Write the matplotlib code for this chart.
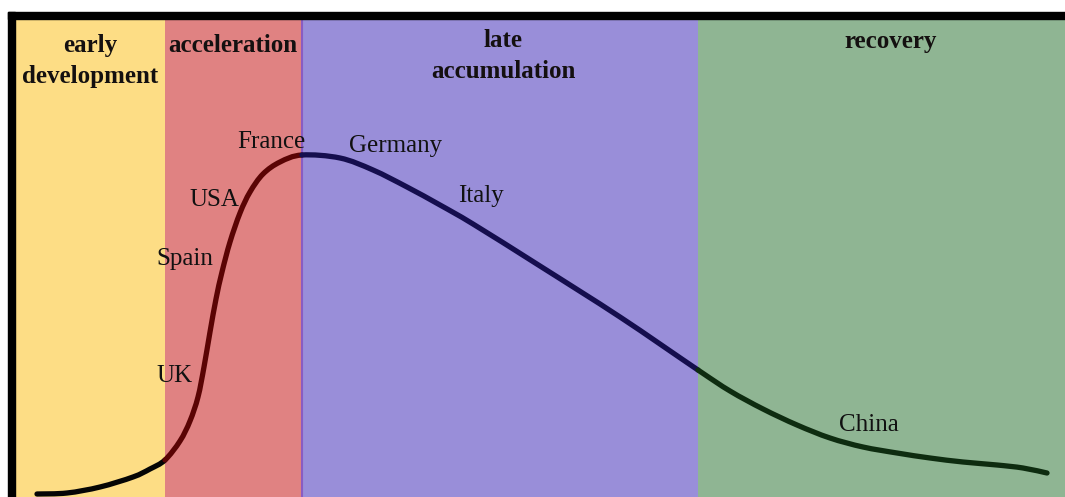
import numpy as np
import matplotlib.pyplot as plt
from matplotlib.patches import Rectangle, PathPatch
from matplotlib.path import Path

# stages: boundaries along the horizontal axis (pixel-like units)
stage_top = ["early", "acceleration", "late", "recovery"]
stage_bottom = ["development", "", "accumulation", ""]
stage_edges = [15, 165, 302, 698, 1065]
stage_colors = ["#fddd85", "#e08282", "#998ed9", "#8fb593"]
line_colors = ["#050505", "#5a0404", "#150e4e", "#0e2c10"]

# curve (x, level from bottom)
curve_x = [37, 67, 100, 133, 150, 165, 180, 190, 198, 204, 210, 216, 222, 230,
           240, 250, 263, 280, 302, 340, 373, 407, 440, 473, 540, 620, 698,
           730, 763, 797, 830, 863, 897, 930, 963, 997, 1023, 1047]
curve_y = [3, 4, 10, 20, 28, 37, 56, 76, 100, 130, 165, 198, 225, 255,
           284, 305, 323, 335, 342, 339, 327, 310, 292, 273, 231, 180, 127,
           106, 88, 72, 59, 50, 44, 39, 35, 32, 29, 24]

countries = ["France", "Germany", "USA", "Italy", "Spain", "UK", "China"]
country_x = [271, 396, 214, 481, 185, 175, 869]
country_y = [349, 345, 291, 295, 232, 115, 66]

fig = plt.figure(figsize=(10.65, 4.97), dpi=100)
ax = fig.add_axes([15 / 1065, 0, 1050 / 1065, 478 / 497])
ax.set_xlim(15, 1065)
ax.set_ylim(0, 478)
ax.axis("off")

for i in range(4):
    ax.axvspan(stage_edges[i], stage_edges[i + 1], color=stage_colors[i], lw=0, zorder=0)
ax.axvline(302, color="#8a5cc2", lw=1.5, zorder=1)

# smooth curve: catmull-rom through the read points, drawn as bezier paths
pts = np.column_stack([curve_x, curve_y]).astype(float)
n = len(pts)
for i in range(4):
    idx = [k for k in range(n) if stage_edges[i] <= pts[k, 0] <= stage_edges[i + 1]]
    verts = [pts[idx[0]]]
    codes = [Path.MOVETO]
    for k in idx[:-1]:
        p0 = pts[max(k - 1, 0)]
        p1 = pts[k]
        p2 = pts[k + 1]
        p3 = pts[min(k + 2, n - 1)]
        verts += [p1 + (p2 - p0) / 6, p2 - (p3 - p1) / 6, p2]
        codes += [Path.CURVE4] * 3
    ax.add_patch(PathPatch(Path(verts, codes), fill=False, edgecolor=line_colors[i],
                           lw=3.8, capstyle="round", joinstyle="round", zorder=3))

serif = ["Liberation Serif", "DejaVu Serif"]
head_x = [90, 233, 503, 891]
head_y = [445, 445, 450, 449]
for t, b, hx, hy in zip(stage_top, stage_bottom, head_x, head_y):
    ax.text(hx, hy, t, ha="center", va="baseline", fontsize=18, fontweight="bold",
            family=serif, color="#141010", zorder=4)
    if b:
        ax.text(hx, hy - 31, b, ha="center", va="baseline", fontsize=18,
                fontweight="bold", family=serif, color="#141010", zorder=4)

for name, tx, ty in zip(countries, country_x, country_y):
    ax.text(tx, ty, name, ha="center", va="baseline", fontsize=18, family=serif,
            color="#111111", zorder=4)

# black frame on top and left
fig.patches.append(Rectangle((8 / 1065, 478 / 497), 1057 / 1065, 7 / 497,
                             transform=fig.transFigure, color="black", zorder=5))
fig.patches.append(Rectangle((8 / 1065, 0), 7 / 1065, 485 / 497,
                             transform=fig.transFigure, color="black", zorder=5))

fig.savefig("out.png", dpi=100)
